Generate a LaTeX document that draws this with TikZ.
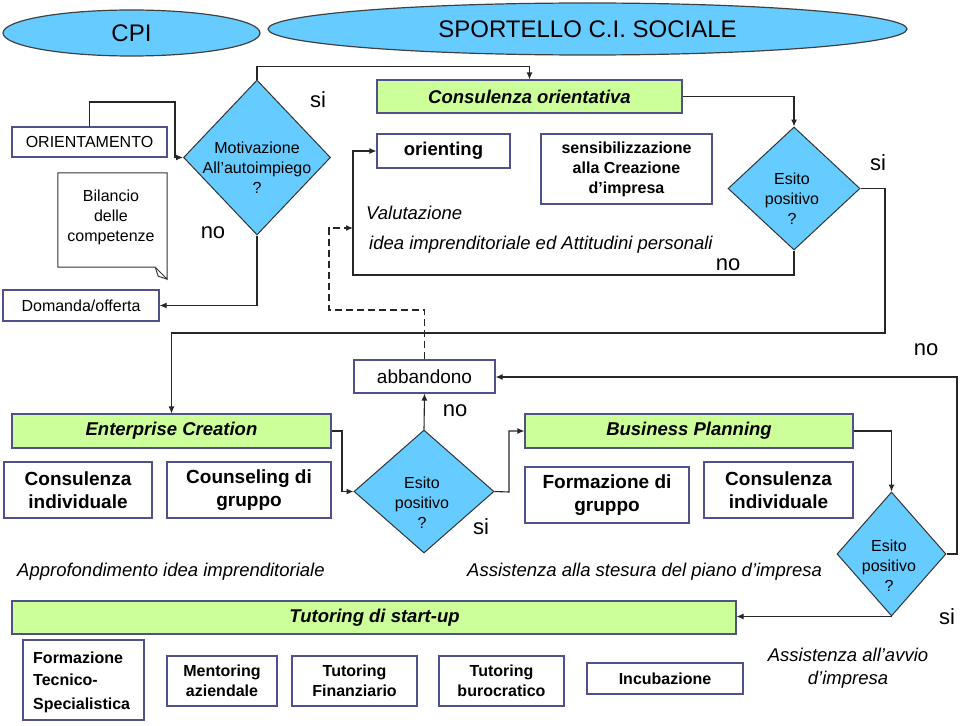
\documentclass[tikz,border=0pt]{standalone}
\usepackage{fontspec}
\setmainfont{Liberation Sans}
\usetikzlibrary{shapes.geometric,arrows.meta}
\definecolor{skyb}{HTML}{66CCFF}
\definecolor{lgreen}{HTML}{CCFF99}
\definecolor{boxc}{RGB}{80,80,140}
\begin{document}
\begin{tikzpicture}[x=1pt,y=-1pt,
  box/.style={draw=boxc, line width=1.1pt, fill=white, inner sep=0pt, align=center},
  gbox/.style={box, fill=lgreen},
  dia/.style={diamond, draw=black!80, fill=skyb, line width=1pt, inner sep=0pt},
  ell/.style={ellipse, draw=black!75, fill=skyb, line width=1.2pt, inner sep=0pt},
  arr/.style={-{Latex[length=7pt,width=6pt]}, line width=1.1pt, draw=black!85},
  tx/.style={inner sep=0pt, align=center},
  fbig/.style={font=\fontsize{24}{28}\selectfont},
  fsn/.style={font=\fontsize{22}{26}\selectfont},
  fr/.style={font=\fontsize{16}{20}\selectfont},
  fb/.style={font=\fontsize{16}{20}\selectfont\bfseries},
  fbb/.style={font=\fontsize{19}{23}\selectfont\bfseries},
  fbi/.style={font=\fontsize{18.5}{22}\selectfont\bfseries\itshape},
  fi/.style={font=\fontsize{18.5}{23}\selectfont\itshape},
]
\useasboundingbox (0,0) rectangle (960,725);

% ellipses
\node[ell, minimum width=257, minimum height=46] (cpi) at (131.5,33) {};
\node[tx, fbig] at (cpi) {CPI};
\node[ell, minimum width=639, minimum height=52] (sport) at (587.5,29) {};
\node[tx, fbig] at (sport) {SPORTELLO C.I. SOCIALE};

% left column
\node[box, fr, minimum width=155, minimum height=30] (orient) at (89.5,142) {ORIENTAMENTO};
\node[draw=none, minimum width=109, minimum height=94, inner sep=0pt] (bil) at (112.5,220) {};
\draw[black!80, line width=1pt, fill=white] (bil.north west) -- (bil.north east) -- ([yshift=-12pt]bil.south east) -- ([xshift=-12pt]bil.south east) -- (bil.south west) -- cycle;
\draw[black!80, line width=1pt] ([xshift=-12pt]bil.south east) -- ([xshift=-9pt,yshift=-9pt]bil.south east) -- ([yshift=-12pt]bil.south east);
\node[tx, fr] at (111,217) {Bilancio\\delle\\competenze};
\node[box, fr, minimum width=156, minimum height=31] (dom) at (81,305.5) {Domanda/offerta};

\node[dia, minimum width=147, minimum height=155] (mot) at (257,157.5) {};
\node[tx, fr] at (257,168) {Motivazione\\All'autoimpiego\\?};

% Consulenza orientativa block
\node[gbox, fbi, minimum width=305, minimum height=33] (consor) at (529.5,96.5) {Consulenza orientativa};
\node[box, minimum width=133, minimum height=34, font=\fontsize{18.5}{22}\selectfont\bfseries] (orienting) at (443.5,151) {orienting};
\node[box, fb, minimum width=171, minimum height=70] (sens) at (626.5,169) {sensibilizzazione\\alla Creazione\\d'impresa};
\node[tx, fi, anchor=west] (valut) at (366,213) {Valutazione};
\node[tx, fi, anchor=west] (idea) at (369,245) {idea imprenditoriale ed Attitudini personali};

\node[dia, minimum width=132, minimum height=123] (es1) at (794,188.5) {};
\node[tx, fr] at (792,199) {Esito\\positivo\\?};

% middle
\node[box, minimum width=141, minimum height=33, font=\fontsize{19}{23}\selectfont] (abb) at (424.5,376.5) {abbandono};
\node[dia, minimum width=140, minimum height=123] (es2) at (424,491.5) {};
\node[tx, fr] at (422,503) {Esito\\positivo\\?};

\node[gbox, fbi, minimum width=319, minimum height=34] (ec) at (171.5,431) {Enterprise Creation};
\node[box, fbb, minimum width=148, minimum height=56] (ci1) at (78,490) {Consulenza\\individuale};
\node[box, fbb, minimum width=164, minimum height=56] (cg) at (249,490) {Counseling di\\gruppo};
\node[tx, fi, anchor=west] (appr) at (17,572) {Approfondimento idea imprenditoriale};

\node[gbox, fbi, minimum width=328, minimum height=34] (bp) at (689,431) {Business Planning};
\node[box, fbb, minimum width=164, minimum height=56] (fg) at (607,495) {Formazione di\\gruppo};
\node[box, fbb, minimum width=149, minimum height=56] (ci2) at (778.5,490) {Consulenza\\individuale};
\node[tx, fi, anchor=west] (assi) at (467,572) {Assistenza alla stesura del piano d'impresa};

\node[dia, minimum width=109, minimum height=124] (es3) at (891.5,554) {};
\node[tx, fr] at (889,566) {Esito\\positivo\\?};

% tutoring
\node[gbox, minimum width=724, minimum height=33] (tut) at (374,617.5) {};
\node[tx, fbi] at (374.5,618) {Tutoring di start-up};
\node[box, minimum width=121, minimum height=80] (fts) at (83.5,680) {};
\node[tx, anchor=west, align=left, font=\fontsize{16}{21}\selectfont\bfseries] at (33,682.5) {Formazione\\[1pt]Tecnico-\\[3pt]Specialistica};
\node[box, fb, minimum width=110, minimum height=50] (ment) at (222,681) {Mentoring\\aziendale};
\node[box, fb, minimum width=125, minimum height=50] (tfin) at (354.5,681) {Tutoring\\Finanziario};
\node[box, fb, minimum width=125, minimum height=50] (tbur) at (501.5,681) {Tutoring\\burocratico};
\node[box, fb, minimum width=156, minimum height=31] (inc) at (665,678.5) {Incubazione};
\node[tx, fi] (avvio) at (848,668.5) {Assistenza all'avvio\\d'impresa};

% labels
\node[tx, fsn] at (318,100) {si};
\node[tx, fsn] at (213,233) {no};
\node[tx, fsn] at (878,163) {si};
\node[tx, fsn] at (728,265) {no};
\node[tx, fsn] at (455,411) {no};
\node[tx, fsn] at (481,527) {si};
\node[tx, fsn] at (926,350) {no};
\node[tx, fsn] at (947,617) {si};

% connectors
\coordinate (b1) at (175,102);
\coordinate (b2) at (885,333);
\coordinate (b3) at (353,275);
\coordinate (b4) at (329,310);
\coordinate (b5) at (342,431);
\coordinate (b6) at (509,492);
\coordinate (b7) at (957,377);
\coordinate (b8) at (353,228);

\draw[arr] (orient.north) |- (b1) |- (mot.west);
\draw[arr] (mot.north) -- ++(0,-13) -| (consor.north);
\draw[arr] (consor.east) -| (es1.north);
\draw[arr] (es1.east) -| (b2) -| (ec.north);
\draw[arr] (es1.south) |- (b3) |- (orienting.west);
\draw[arr, dash pattern=on 7pt off 4pt] (abb.north) |- (b4) |- (b8);
\draw[arr] (mot.south) |- (dom.east);
\draw[arr] (es2.north) -- (abb.south);
\draw[arr] (ec.east) -- (b5) |- (es2.west);
\draw[arr] (es2.east) -- (b6) |- (bp.west);
\draw[arr] (bp.east) -| (es3.north);
\draw[arr] (es3.east) -| (b7) -- (abb.east |- b7);
\draw[arr] (es3.south) -- (es3.south -| tut.east);
\end{tikzpicture}
\end{document}
